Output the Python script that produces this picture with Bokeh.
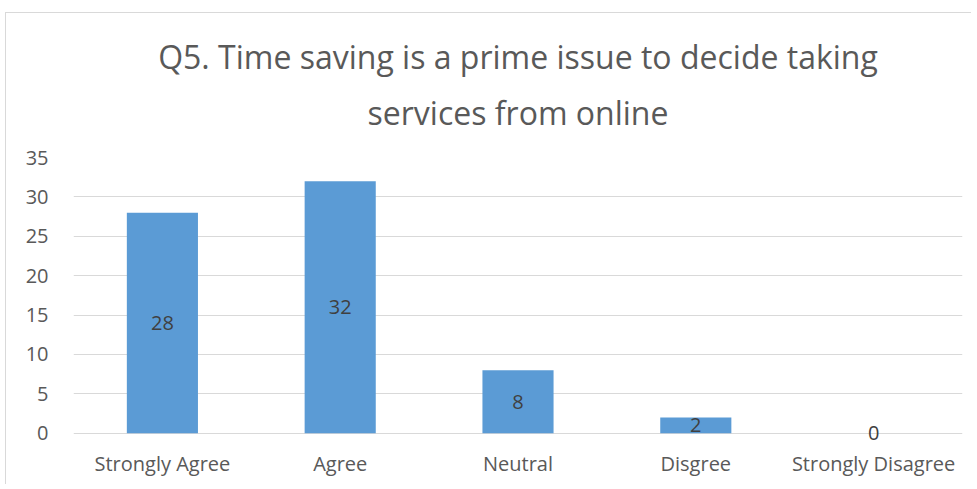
from bokeh.plotting import figure
from bokeh.models import ColumnDataSource, Title, LabelSet, FixedTicker
from bokeh.core.properties import value
from bokeh.embed import file_html
from bokeh.resources import INLINE

categories = ["Strongly Agree", "Agree", "Neutral", "Disgree", "Strongly Disagree"]
counts = [28, 32, 8, 2, 0]
title_lines = ["Q5. Time saving is a prime issue to decide taking", "services from online"]
y_ticks = [0, 5, 10, 15, 20, 25, 30, 35]

FONT = "Open Sans"
src = ColumnDataSource(dict(cat=categories, val=counts, mid=[v / 2 for v in counts],
                            lbl=[str(v) for v in counts]))

p = figure(x_range=categories, y_range=(-1.3, 35), width=966, height=472,
           output_backend="svg", toolbar_location=None, title=None,
           min_border_left=67, min_border_right=10, min_border_bottom=42, min_border_top=144,
           margin=(12, 0, 0, 5),
           styles={"border-top": "1px solid #D9D9D9", "border-left": "1px solid #D9D9D9"})

p.vbar(x="cat", top="val", bottom=0, width=0.4, source=src, fill_color="#5B9BD5", line_color=None)
p.add_layout(LabelSet(x="cat", y="mid", text="lbl", source=src, text_align="center",
                      text_baseline="middle", text_font=value(FONT), text_font_size="20px",
                      text_color="#404040"))

for i, line in enumerate(reversed(title_lines)):
    p.add_layout(Title(text=line, align="center", text_font=FONT, text_font_size="32px",
                       text_font_style="normal", text_color="#595959",
                       standoff=47 if i == 0 else -25), "above")

p.yaxis.ticker = FixedTicker(ticks=y_ticks)
for ax in (p.xaxis[0], p.yaxis[0]):
    ax.axis_line_color = None
    ax.major_tick_line_color = None
    ax.minor_tick_line_color = None
    ax.major_label_text_font = FONT
    ax.major_label_text_font_size = "20px"
    ax.major_label_text_color = "#595959"
p.yaxis.major_label_standoff = 19
p.xaxis.major_label_standoff = 0

p.xgrid.grid_line_color = None
p.ygrid.grid_line_color = "#D9D9D9"
p.ygrid.grid_line_width = 1
p.outline_line_color = None
p.background_fill_color = "white"
p.border_fill_color = "white"

open("out.html", "w").write(file_html(p, INLINE))
